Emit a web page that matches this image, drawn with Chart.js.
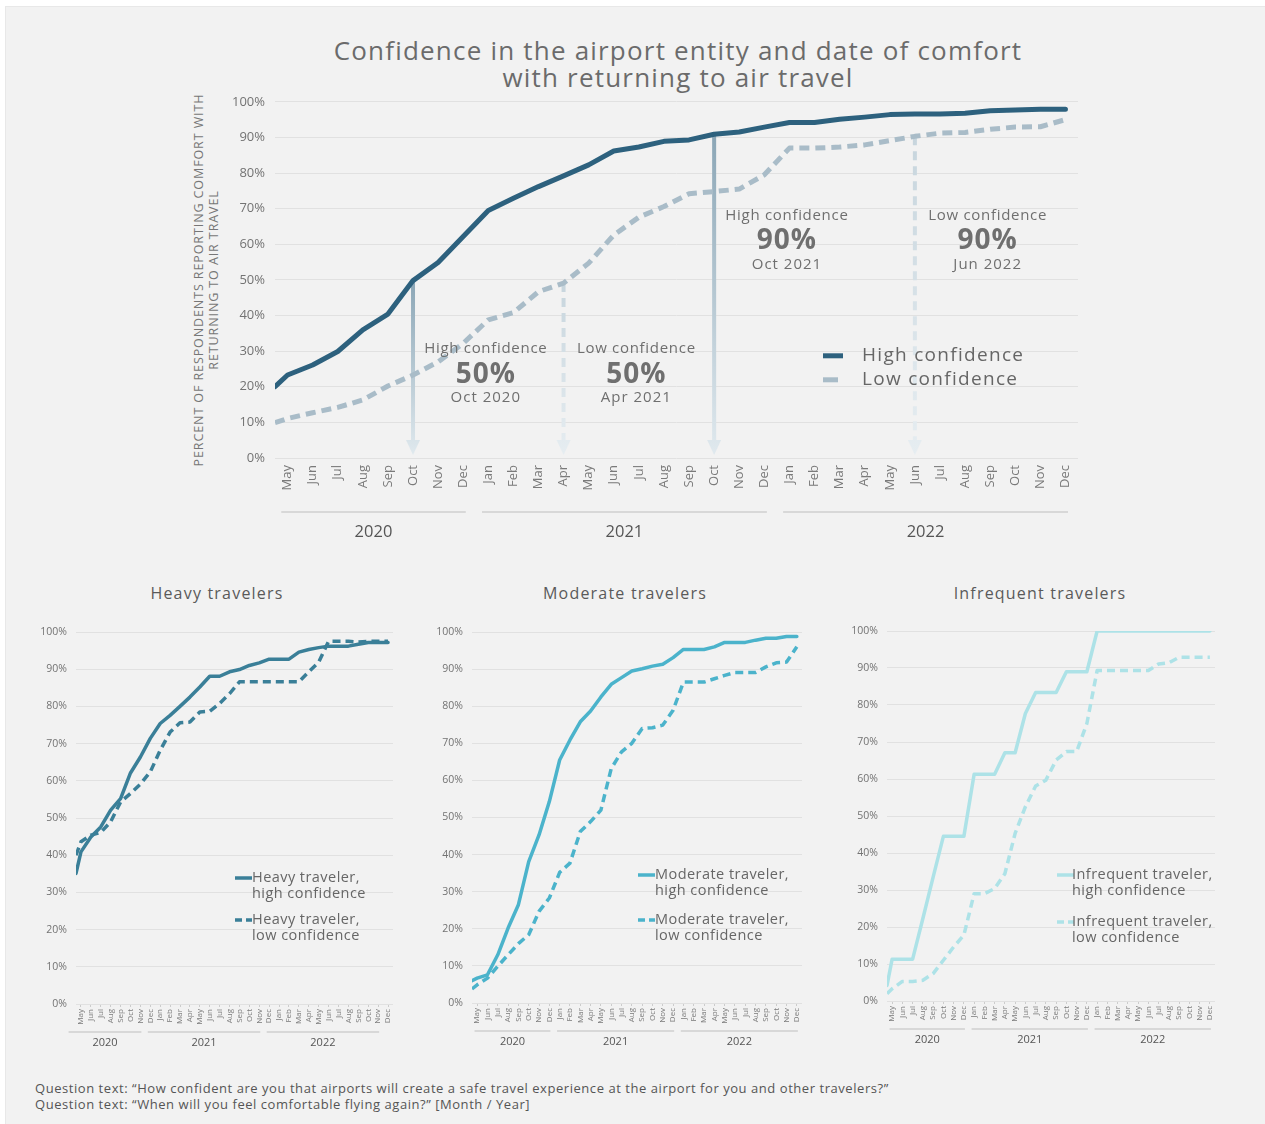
<!DOCTYPE html>
<html>
<head>
<meta charset="utf-8">
<title>Confidence in the airport entity and date of comfort</title>
<script src="https://cdn.jsdelivr.net/npm/chart.js@4.4.1/dist/chart.umd.min.js"></script>
<style>
  html, body { margin: 0; width: 1265px; height: 1124px; background: #fff; overflow: hidden; }
  body { position: relative; font-family: "Open Sans", sans-serif; }
  #panel { position: absolute; left: 5px; top: 6px; right: 0; bottom: 0; background: #f2f2f2; border-left: 1px solid #e8e8e8; border-top: 1px solid #e8e8e8; }
  canvas { position: absolute; }
  .txt { position: absolute; white-space: nowrap; text-align: center; }
  #title { left: 0; top: 37px; width: 1356px; font-size: 26px; line-height: 27px; letter-spacing: 1.2px; color: #6b6b6b; }
  #ytitle { left: 7px; top: 264px; width: 400px; height: 32px; font-size: 12.5px; line-height: 15px; letter-spacing: 0.9px; color: #777; transform: rotate(-90deg); }
  .sub { top: 582px; width: 300px; font-size: 16px; line-height: 22px; letter-spacing: 1.2px; color: #5a5a5a; }
  #foot { left: 35px; top: 1080px; font-size: 13px; line-height: 16px; letter-spacing: 0.55px; color: #555; text-align: left; }
</style>
</head>
<body>
<div id="panel"></div>
<div class="txt" id="title">Confidence in the airport entity and date of comfort<br>with returning to air travel</div>
<div class="txt" id="ytitle">PERCENT OF RESPONDENTS REPORTING COMFORT WITH<br>RETURNING TO AIR TRAVEL</div>
<canvas id="main" width="900" height="481" style="left:190px; top:84px;"></canvas>

<div class="txt sub" style="left:67px;">Heavy travelers</div>
<div class="txt sub" style="left:475px;">Moderate travelers</div>
<div class="txt sub" style="left:890px;">Infrequent travelers</div>
<canvas id="heavy" width="385" height="445" style="left:20px; top:615px;"></canvas>
<canvas id="moderate" width="398" height="444" style="left:416px; top:615px;"></canvas>
<canvas id="infrequent" width="396" height="442" style="left:831px; top:615px;"></canvas>

<div class="txt" id="foot">Question text: “How confident are you that airports will create a safe travel experience at the airport for you and other travelers?”<br>Question text: “When will you feel comfortable flying again?” [Month / Year]</div>

<script>
// months May 2020 .. Dec 2022
const months = ['May','Jun','Jul','Aug','Sep','Oct','Nov','Dec',
  'Jan','Feb','Mar','Apr','May','Jun','Jul','Aug','Sep','Oct','Nov','Dec',
  'Jan','Feb','Mar','Apr','May','Jun','Jul','Aug','Sep','Oct','Nov','Dec'];
const years = ['2020', '2021', '2022'];
const yearFirstMonth = [0, 8, 20];

// all respondents (value where the line enters the plot, then one per month)
const allStart = [20.0, 9.9];
const allHigh = [23.3, 26.1, 29.9, 36.0, 40.4, 49.8, 54.9, 62.2,
  69.5, 72.9, 76.2, 79.2, 82.3, 86.2, 87.3, 88.9, 89.3, 90.9, 91.5, 92.9,
  94.2, 94.2, 95.1, 95.7, 96.4, 96.6, 96.6, 96.8, 97.5, 97.7, 97.9, 97.9];
const allLow = [11.1, 12.7, 14.2, 16.3, 20.2, 23.3, 27.0, 32.2,
  38.8, 40.8, 46.7, 49.1, 54.7, 62.6, 67.6, 70.6, 74.2, 74.8, 75.5, 79.5,
  87.0, 87.0, 87.3, 87.9, 89.1, 90.3, 91.2, 91.4, 92.3, 92.9, 93.0, 95.0];

const heavyStart = [35.1, 40.0];
const heavyHigh = [40.9, 44.9, 47.6, 52.1, 55.2, 62.1, 66.4, 71.4,
  75.4, 77.6, 80.0, 82.5, 85.2, 88.1, 88.1, 89.3, 89.9, 91.0, 91.7, 92.7,
  92.7, 92.7, 94.6, 95.3, 95.8, 96.2, 96.2, 96.2, 96.7, 97.2, 97.2, 97.2];
const heavyLow = [43.6, 45.4, 46.1, 49.0, 54.3, 56.6, 59.1, 62.4,
  68.2, 73.1, 75.6, 75.8, 78.5, 78.7, 80.8, 83.4, 86.6, 86.6, 86.6, 86.6,
  86.6, 86.6, 86.6, 89.3, 91.9, 97.5, 97.5, 97.5, 97.3, 97.5, 97.5, 97.5];

const moderateStart = [6.0, 3.8];
const moderateHigh = [6.7, 7.6, 13.0, 20.2, 26.5, 38.1, 45.3, 54.3,
  65.5, 70.9, 75.8, 78.7, 82.5, 85.9, 87.7, 89.5, 90.1, 90.8, 91.3, 93.1,
  95.3, 95.3, 95.3, 96.0, 97.2, 97.2, 97.2, 97.8, 98.3, 98.3, 98.8, 98.8];
const moderateLow = [4.9, 6.7, 9.9, 13.0, 16.0, 18.4, 24.7, 28.3,
  35.2, 37.7, 46.2, 48.9, 52.0, 63.2, 67.7, 70.0, 74.0, 74.2, 74.9, 78.9,
  86.5, 86.5, 86.5, 87.4, 88.3, 89.1, 89.1, 89.1, 90.6, 91.7, 91.9, 96.0];

const infrequentStart = [4.2, 2.0];
const infrequentHigh = [11.3, 11.3, 11.3, 22.3, 33.5, 44.5, 44.5, 44.5,
  61.3, 61.3, 61.3, 67.1, 67.1, 77.7, 83.4, 83.4, 83.4, 89.0, 89.0, 89.0,
  100, 100, 100, 100, 100, 100, 100, 100, 100, 100, 100, 100];
const infrequentLow = [3.3, 5.3, 5.3, 5.6, 7.4, 11.0, 14.6, 17.8,
  29.0, 29.0, 30.4, 34.4, 45.3, 52.5, 58.1, 59.7, 65.1, 67.4, 67.4, 75.0,
  89.3, 89.3, 89.3, 89.3, 89.3, 89.3, 91.1, 91.4, 92.9, 92.9, 92.9, 92.9];

const xMin = -0.5, xMax = months.length - 0.5;
const FONT = '"Open Sans", sans-serif';
Chart.defaults.font.family = FONT;

function points(start, values) {
  return [{ x: xMin, y: start }].concat(values.map((v, i) => ({ x: i, y: v })));
}

// arrows, callouts, legend and year rows
const overlay = {
  id: 'overlay',
  beforeDatasetsDraw(chart, args, opts) {
    const { ctx, scales: { x, y } } = chart;
    (opts.arrows || []).forEach(a => {
      const p = chart.data.datasets[a.series].data.find(d => d.x === a.index);
      const px = x.getPixelForValue(a.index);
      const top = y.getPixelForValue(p.y);
      const bottom = y.getPixelForValue(0) - 3;
      const g = ctx.createLinearGradient(0, top, 0, bottom);
      g.addColorStop(0, a.from);
      g.addColorStop(1, a.to);
      ctx.save();
      ctx.strokeStyle = g;
      ctx.fillStyle = g;
      ctx.lineWidth = 4;
      ctx.setLineDash(a.dash);
      ctx.beginPath();
      ctx.moveTo(px, top);
      ctx.lineTo(px, bottom - 12);
      ctx.stroke();
      ctx.setLineDash([]);
      ctx.beginPath();
      ctx.moveTo(px - 7, bottom - 15);
      ctx.lineTo(px + 7, bottom - 15);
      ctx.lineTo(px, bottom);
      ctx.closePath();
      ctx.fill();
      ctx.restore();
    });
  },
  afterDraw(chart, args, opts) {
    const { ctx, chartArea, scales: { x, y } } = chart;
    ctx.save();
    ctx.textBaseline = 'middle';

    (opts.notes || []).forEach(n => {
      const cx = x.getPixelForValue(n.at[0]);
      const cy = y.getPixelForValue(n.at[1]);
      ctx.textAlign = 'center';
      ctx.fillStyle = '#6f6f6f';
      ctx.letterSpacing = '0.7px';
      ctx.font = '15px ' + FONT;
      ctx.fillText(n.lines[0], cx, cy - 26);
      ctx.letterSpacing = '1px';
      ctx.font = 'bold 28px ' + FONT;
      ctx.fillText(n.lines[1], cx, cy);
      ctx.font = '15px ' + FONT;
      ctx.fillText(n.lines[2], cx, cy + 23);
      ctx.letterSpacing = '0px';
    });

    const lg = opts.legend;
    if (lg) {
      chart.data.datasets.forEach((ds, k) => {
        const ly = chartArea.top + lg.y + k * lg.gap;
        const lx = chartArea.left + lg.x;
        ctx.strokeStyle = ds.borderColor;
        ctx.lineWidth = lg.width;
        ctx.lineCap = 'butt';
        ctx.setLineDash(lg.dash[k]);
        ctx.beginPath();
        ctx.moveTo(lx, ly);
        ctx.lineTo(lx + lg.len[k], ly);
        ctx.stroke();
        ctx.setLineDash([]);
        ctx.fillStyle = '#666';
        ctx.font = lg.font;
        ctx.letterSpacing = lg.spacing;
        ctx.textAlign = 'left';
        lg.text[k].forEach((t, j) => {
          ctx.fillText(t, chartArea.left + lg.textX, ly + j * lg.lineHeight);
        });
        ctx.letterSpacing = '0px';
      });
    }

    const yr = opts.years;
    if (yr) {
      const base = chartArea.bottom;
      years.forEach((label, k) => {
        const first = yearFirstMonth[k];
        const last = k + 1 < years.length ? yearFirstMonth[k + 1] - 1 : months.length - 1;
        const a = x.getPixelForValue(first + yr.shift - 0.25);
        const b = x.getPixelForValue(last + yr.shift + 0.1);
        ctx.strokeStyle = '#bdbdbd';
        ctx.lineWidth = 1.2;
        ctx.beginPath();
        ctx.moveTo(a, base + yr.lineY);
        ctx.lineTo(b, base + yr.lineY);
        ctx.stroke();
        ctx.fillStyle = '#555';
        ctx.font = yr.font;
        ctx.textAlign = 'center';
        ctx.fillText(label, (a + b) / 2, base + yr.textY);
      });
    }
    ctx.restore();
  }
};

function build(cfg) {
  return new Chart(document.getElementById(cfg.canvas), {
    type: 'line',
    data: {
      datasets: [
        { label: cfg.labels[0], data: points(cfg.start[0], cfg.high), borderColor: cfg.colors[0],
          borderWidth: cfg.line, borderJoinStyle: 'round', borderCapStyle: 'round' },
        { label: cfg.labels[1], data: points(cfg.start[1], cfg.low), borderColor: cfg.colors[1],
          borderWidth: cfg.line, borderDash: cfg.dash, borderJoinStyle: 'round', borderCapStyle: 'butt' }
      ]
    },
    options: {
      responsive: false,
      animation: false,
      events: [],
      devicePixelRatio: 1,
      elements: { point: { radius: 0 }, line: { tension: 0 } },
      layout: { padding: { top: cfg.pad.top, right: cfg.pad.right, left: 0, bottom: 0 } },
      plugins: {
        legend: { display: false },
        tooltip: { enabled: false },
        overlay: cfg.overlay
      },
      scales: {
        x: {
          type: 'linear',
          min: xMin,
          max: xMax,
          afterBuildTicks: s => { s.ticks = months.map((m, i) => ({ value: i })); },
          afterFit: s => { s.height = cfg.xHeight; },
          border: { display: false },
          grid: cfg.xTicks
            ? { display: true, drawOnChartArea: false, drawTicks: true, tickLength: 3, color: '#cccccc' }
            : { display: false, drawTicks: false },
          ticks: {
            autoSkip: false,
            minRotation: 90,
            maxRotation: 90,
            padding: cfg.xPad,
            color: '#7a7a7a',
            font: { size: cfg.xFont },
            callback: v => months[v]
          }
        },
        y: {
          min: 0,
          max: 100,
          afterFit: s => { s.width = cfg.yWidth; },
          border: { display: false },
          grid: { color: '#e1e1e1', lineWidth: 1, drawTicks: false },
          ticks: {
            stepSize: 10,
            padding: cfg.yPad,
            color: '#737373',
            font: { size: cfg.yFont },
            callback: v => v + '%'
          }
        }
      }
    },
    plugins: [overlay]
  });
}

const solidArrow = { from: '#8ba6b6', to: '#e0e9ee', dash: [] };
const dashArrow = { from: '#c7d5dd', to: '#e6edf1', dash: [9, 6] };

build({
  canvas: 'main',
  labels: ['High confidence', 'Low confidence'],
  start: allStart, high: allHigh, low: allLow,
  colors: ['#2d617e', '#a9bcc8'],
  line: 5, dash: [10, 6],
  yWidth: 85, xHeight: 107, pad: { top: 7, right: 12 },
  yFont: 13, xFont: 13, yPad: 10, xPad: 7, xTicks: false,
  overlay: {
    arrows: [
      Object.assign({ series: 0, index: 5 }, solidArrow),
      Object.assign({ series: 1, index: 11 }, dashArrow),
      Object.assign({ series: 0, index: 17 }, solidArrow),
      Object.assign({ series: 1, index: 25 }, dashArrow)
    ],
    notes: [
      { at: [7.9, 23.3], lines: ['High confidence', '50%', 'Oct 2020'] },
      { at: [13.9, 23.3], lines: ['Low confidence', '50%', 'Apr 2021'] },
      { at: [19.9, 60.8], lines: ['High confidence', '90%', 'Oct 2021'] },
      { at: [27.9, 60.8], lines: ['Low confidence', '90%', 'Jun 2022'] }
    ],
    legend: {
      x: 548, y: 254, gap: 24, len: [20, 15], dash: [[], []], width: 5,
      textX: 587, font: '19px ' + FONT, spacing: '1.3px', lineHeight: 0,
      text: [['High confidence'], ['Low confidence']]
    },
    years: { shift: 0, lineY: 54, textY: 74, font: '16.5px ' + FONT }
  }
});

const small = [
  { canvas: 'heavy', name: 'Heavy traveler', start: heavyStart, high: heavyHigh, low: heavyLow,
    color: '#3a7f98', pad: { top: 17, right: 12 }, legend: { x: 159, y: 246, gap: 42, textX: 176 }, shift: -1 },
  { canvas: 'moderate', name: 'Moderate traveler', start: moderateStart, high: moderateHigh, low: moderateLow,
    color: '#4bb3cb', pad: { top: 17, right: 12 }, legend: { x: 166, y: 243, gap: 45, textX: 183 }, shift: 0 },
  { canvas: 'infrequent', name: 'Infrequent traveler', start: infrequentStart, high: infrequentHigh, low: infrequentLow,
    color: '#ade2e7', pad: { top: 16, right: 12 }, legend: { x: 170, y: 244, gap: 47, textX: 185 }, shift: 0 }
];

small.forEach(s => {
  build({
    canvas: s.canvas,
    labels: [s.name + ', high confidence', s.name + ', low confidence'],
    start: s.start, high: s.high, low: s.low,
    colors: [s.color, s.color],
    line: 3.5, dash: [8, 5],
    yWidth: 56, xHeight: 56, pad: s.pad,
    yFont: 10.5, xFont: 8, yPad: 9, xPad: 2, xTicks: true,
    overlay: {
      legend: Object.assign({
        len: [17, 17], dash: [[], [7, 4]], width: 3.5,
        font: '14.5px ' + FONT, spacing: '0.45px', lineHeight: 16,
        text: [[s.name + ',', 'high confidence'], [s.name + ',', 'low confidence']]
      }, s.legend),
      years: { shift: s.shift, lineY: 28, textY: 39, font: '11px ' + FONT }
    }
  });
});
</script>
</body>
</html>
